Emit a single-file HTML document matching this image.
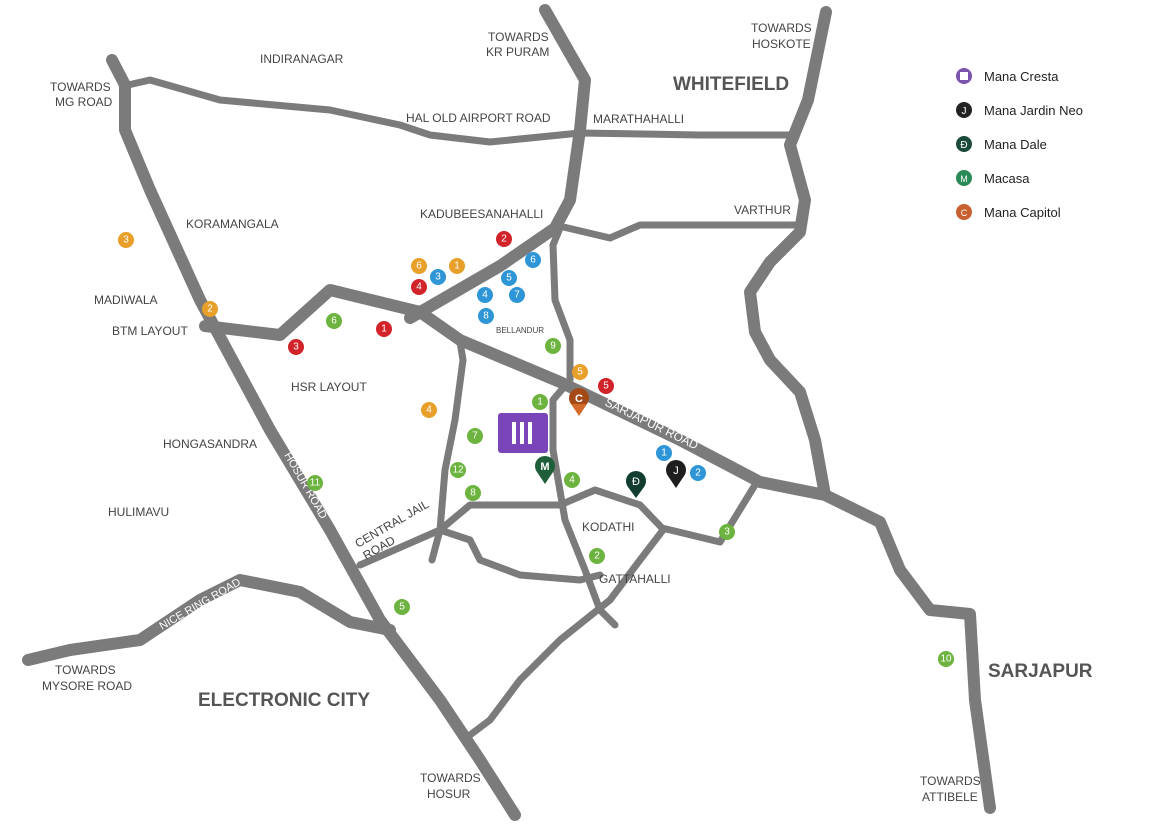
<!DOCTYPE html>
<html><head><meta charset="utf-8"><style>
body{margin:0;background:#fff}
svg{display:block}
text{font-family:"Liberation Sans",sans-serif}
.l{font-size:12px;fill:#444}
.b{font-size:19px;font-weight:bold;fill:#555}
.n{font-size:10px;fill:#fff;text-anchor:middle;dominant-baseline:central}
.g{fill:none;stroke:#7b7b7b;stroke-linejoin:round;stroke-linecap:round}
</style></head><body>
<svg width="1160" height="836" viewBox="0 0 1160 836">
<g class="g" stroke-width="12">
<polyline points="112,60 125,85 125,130 150,190 200,300 270,430 330,530 380,620 440,700 480,760 515,815"/>
<polyline points="205,326 280,335 330,290 420,312 460,340 560,382 680,440 760,482 825,495 880,522 900,570 930,610 970,614 975,700 990,808"/>
<polyline points="826,12 808,100 790,145 805,200 800,232 770,262 750,292 755,332 770,360 800,392 815,440 825,495"/>
<polyline points="545,10 585,80 580,130 570,200 555,228 500,266 410,318"/>
<polyline points="28,660 70,650 140,640 200,600 240,580 300,592 350,622 390,630"/>
</g>
<g class="g" stroke-width="7">
<polyline points="128,85 150,80 220,100 330,110 400,125 430,135 490,142 580,133 700,135 790,135"/>
<polyline points="555,225 610,238 640,225 700,225 800,225"/>
<polyline points="560,228 553,245 555,300 570,340 570,380 553,400 553,450 565,520 585,570 600,610 615,625"/>
<polyline points="460,342 463,360 455,420 445,470 440,530 432,560"/>
<polyline points="360,565 440,530 470,505 560,505 595,490 640,505 662,528 720,542 755,485"/>
<polyline points="440,530 470,540 480,560 520,575 580,580 600,575"/>
<polyline points="663,530 640,560 610,600 560,640 520,680 490,720 470,735"/>
</g>
<g class="l">
<text x="260" y="63">INDIRANAGAR</text>
<text x="488" y="41">TOWARDS</text><text x="486" y="56">KR PURAM</text>
<text x="751" y="32">TOWARDS</text><text x="752" y="48">HOSKOTE</text>
<text x="50" y="91">TOWARDS</text><text x="55" y="106">MG ROAD</text>
<text x="406" y="122">HAL OLD AIRPORT ROAD</text>
<text x="593" y="123">MARATHAHALLI</text>
<text x="420" y="218">KADUBEESANAHALLI</text>
<text x="734" y="214">VARTHUR</text>
<text x="186" y="228">KORAMANGALA</text>
<text x="94" y="304">MADIWALA</text>
<text x="112" y="335">BTM LAYOUT</text>
<text x="291" y="391">HSR LAYOUT</text>
<text x="163" y="448">HONGASANDRA</text>
<text x="108" y="516">HULIMAVU</text>
<text x="582" y="531">KODATHI</text>
<text x="599" y="583">GATTAHALLI</text>
<text x="55" y="674">TOWARDS</text><text x="42" y="690">MYSORE ROAD</text>
<text x="420" y="782">TOWARDS</text><text x="427" y="798">HOSUR</text>
<text x="920" y="785">TOWARDS</text><text x="922" y="801">ATTIBELE</text>
<text x="496" y="333" style="font-size:8px">BELLANDUR</text>
<text transform="translate(358,548) rotate(-30)">CENTRAL JAIL</text>
<text transform="translate(366,560) rotate(-30)">ROAD</text>
<text transform="translate(284,455) rotate(60)" style="fill:#fff;font-size:11px">HOSUR ROAD</text>
<text transform="translate(604,405) rotate(26)" style="fill:#fff">SARJAPUR ROAD</text>
<text transform="translate(162,630) rotate(-30)" style="fill:#fff;font-size:11px">NICE RING ROAD</text>
</g>
<text class="b" x="673" y="90">WHITEFIELD</text>
<text class="b" x="988" y="677">SARJAPUR</text>
<text class="b" x="198" y="706">ELECTRONIC CITY</text>
<g>
<g fill="#e8a02a"><circle cx="126" cy="240" r="8"/><circle cx="210" cy="309" r="8"/><circle cx="419" cy="266" r="8"/><circle cx="457" cy="266" r="8"/><circle cx="429" cy="410" r="8"/><circle cx="580" cy="372" r="8"/></g>
<g fill="#d2232a"><circle cx="504" cy="239" r="8"/><circle cx="419" cy="287" r="8"/><circle cx="384" cy="329" r="8"/><circle cx="296" cy="347" r="8"/><circle cx="606" cy="386" r="8"/></g>
<g fill="#2e96d6"><circle cx="438" cy="277" r="8"/><circle cx="533" cy="260" r="8"/><circle cx="509" cy="278" r="8"/><circle cx="485" cy="295" r="8"/><circle cx="517" cy="295" r="8"/><circle cx="486" cy="316" r="8"/><circle cx="664" cy="453" r="8"/><circle cx="698" cy="473" r="8"/></g>
<g fill="#6db33f"><circle cx="334" cy="321" r="8"/><circle cx="553" cy="346" r="8"/><circle cx="540" cy="402" r="8"/><circle cx="475" cy="436" r="8"/><circle cx="458" cy="470" r="8"/><circle cx="473" cy="493" r="8"/><circle cx="572" cy="480" r="8"/><circle cx="315" cy="483" r="8"/><circle cx="597" cy="556" r="8"/><circle cx="727" cy="532" r="8"/><circle cx="402" cy="607" r="8"/><circle cx="946" cy="659" r="8"/></g>
<g class="n">
<text x="126" y="240">3</text><text x="210" y="309">2</text><text x="419" y="266">6</text><text x="457" y="266">1</text><text x="429" y="410">4</text><text x="580" y="372">5</text>
<text x="504" y="239">2</text><text x="419" y="287">4</text><text x="384" y="329">1</text><text x="296" y="347">3</text><text x="606" y="386">5</text>
<text x="438" y="277">3</text><text x="533" y="260">6</text><text x="509" y="278">5</text><text x="485" y="295">4</text><text x="517" y="295">7</text><text x="486" y="316">8</text><text x="664" y="453">1</text><text x="698" y="473">2</text>
<text x="334" y="321">6</text><text x="553" y="346">9</text><text x="540" y="402">1</text><text x="475" y="436">7</text><text x="458" y="470">12</text><text x="473" y="493">8</text><text x="572" y="480">4</text><text x="315" y="483">11</text><text x="597" y="556">2</text><text x="727" y="532">3</text><text x="402" y="607">5</text><text x="946" y="659">10</text>
</g>
</g>
<rect x="498" y="413" width="50" height="40" rx="3" fill="#7a45b8"/>
<rect x="512" y="422" width="4" height="22" fill="#fff"/><rect x="520" y="422" width="4" height="22" fill="#fff"/><rect x="528" y="422" width="4" height="22" fill="#fff"/>
<g>
<circle cx="579" cy="398" r="10" fill="#a34a17"/><polygon points="571,404 587,404 579,416" fill="#d46a2a"/><text x="579" y="402" style="font-size:11px;fill:#fff;text-anchor:middle;font-weight:bold">C</text>
<circle cx="545" cy="466" r="10" fill="#1e5e3a"/><polygon points="537,472 553,472 545,484" fill="#1e5e3a"/><text x="545" y="470" style="font-size:11px;fill:#fff;text-anchor:middle;font-weight:bold">M</text>
<circle cx="636" cy="481" r="10" fill="#123d30"/><polygon points="628,487 644,487 636,498" fill="#123d30"/><text x="636" y="485" style="font-size:11px;fill:#fff;text-anchor:middle">Ð</text>
<circle cx="676" cy="470" r="10" fill="#1e1e1e"/><polygon points="668,476 684,476 676,488" fill="#1e1e1e"/><text x="676" y="474" style="font-size:11px;fill:#fff;text-anchor:middle">J</text>
</g>
<g style="font-size:13px;fill:#222">
<circle cx="964" cy="76" r="8" fill="#7a55b0"/><rect x="960" y="72" width="8" height="8" fill="#fff"/><text x="984" y="81">Mana Cresta</text>
<circle cx="964" cy="110" r="8" fill="#222"/><text x="964" y="114" style="font-size:10px;fill:#fff;text-anchor:middle">J</text><text x="984" y="115">Mana Jardin Neo</text>
<circle cx="964" cy="144" r="8" fill="#1d4a3a"/><text x="964" y="148" style="font-size:10px;fill:#fff;text-anchor:middle">Ð</text><text x="984" y="149">Mana Dale</text>
<circle cx="964" cy="178" r="8" fill="#2a8a55"/><text x="964" y="182" style="font-size:9px;fill:#fff;text-anchor:middle">M</text><text x="984" y="183">Macasa</text>
<circle cx="964" cy="212" r="8" fill="#c7602e"/><text x="964" y="216" style="font-size:9px;fill:#fff;text-anchor:middle">C</text><text x="984" y="217">Mana Capitol</text>
</g>
</svg>
</body></html>
